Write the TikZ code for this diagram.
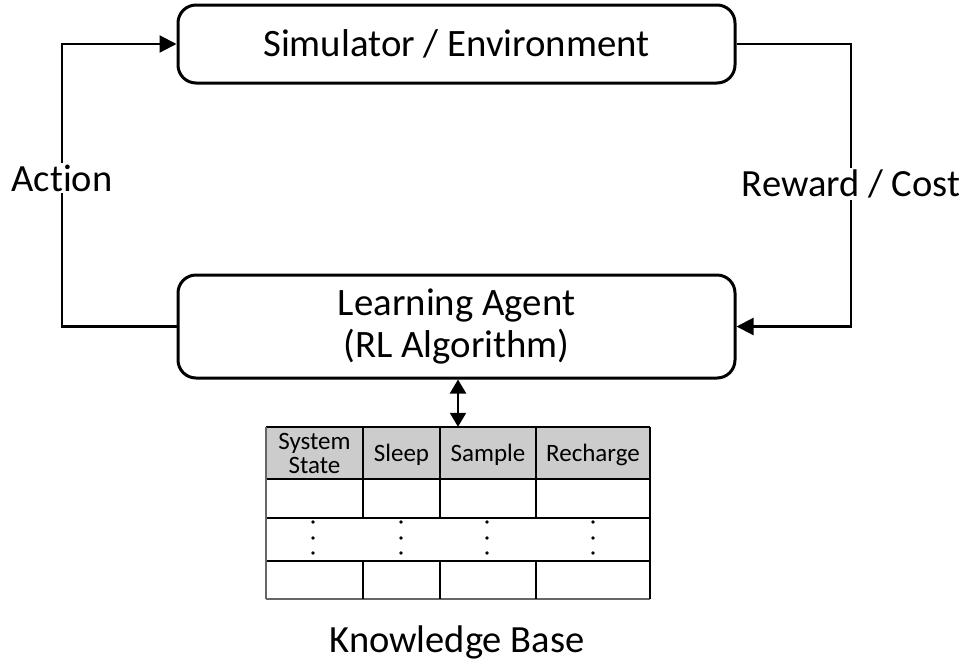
\documentclass[tikz,border=0pt]{standalone}
\usepackage{fontspec}
\setmainfont[Ligatures={NoCommon,NoContextual}]{Carlito}
\usetikzlibrary{arrows.meta}
\begin{document}
\begin{tikzpicture}[x=1pt,y=-1pt,
  bigbox/.style={draw, line width=3pt, rounded corners=18pt, inner sep=0pt,
    minimum width=557pt, align=center, font=\fontsize{38.8}{42}\selectfont},
  conn/.style={line width=2.2pt, -{Triangle[length=17pt,width=17pt]}},
  dbl/.style={line width=2.2pt, {Triangle[length=14pt,width=16pt]}-{Triangle[length=14pt,width=16pt]}},
  lbl/.style={fill=white, inner sep=2pt, font=\fontsize{38.5}{42}\selectfont},
  cell/.style={inner sep=0pt, align=center, font=\fontsize{25}{24}\selectfont},
  tline/.style={line width=1.3pt},
  dotm/.style={fill=black, draw=none}]
\useasboundingbox (0,0) rectangle (966,662);
\definecolor{hdr}{gray}{0.80}

% main boxes
\node[bigbox, minimum height=78pt] (env) at (456.5,44) {Simulator / Environment};
\node[bigbox, minimum height=103pt] (agent) at (456.5,326.5) {Learning Agent\\(RL Algorithm)};

% connectors
\coordinate (actx) at (62,178);
\coordinate (rewx) at (851,184);
\draw[conn] (agent.west) -| (actx) |- (env.west);
\draw[conn] (env.east) -| (rewx) |- (agent.east);
\node[lbl] (action) at (actx) {Action};
\node[lbl] (reward) at (rewx) {Reward / Cost};

% knowledge base table
\node[inner sep=0pt, minimum width=384pt, minimum height=172pt] (kb) at (458,513) {};
\fill[hdr] (266,427) rectangle (650,479);
\foreach \yy in {427,479,518,561} \draw[tline] (266,\yy) -- (650,\yy);
\draw[tline, draw=black!60] (266,599) -- (650,599);
\draw[tline, draw=black!60] (266,427) -- (266,599);
\draw[tline] (650,427) -- (650,599);
\foreach \xx in {363,440,536} {
  \draw[tline] (\xx,427) -- (\xx,518);
  \draw[tline] (\xx,561) -- (\xx,599);
}
\node[cell] (h1) at (314.5,453) {System\\State};
\node[cell] (h2) at (401.5,455) {Sleep};
\node[cell] (h3) at (488,455) {Sample};
\node[cell] (h4) at (593,455) {Recharge};
\foreach \xx in {313,401,487,593}
  \foreach \yy in {522,538,553}
    \fill[dotm] (\xx,\yy) circle (1.8pt);

\draw[dbl] (agent.south -| kb.north) -- (kb.north);
\node[lbl, fill=none] (kbl) at (457,642) {Knowledge Base};
\end{tikzpicture}
\end{document}
